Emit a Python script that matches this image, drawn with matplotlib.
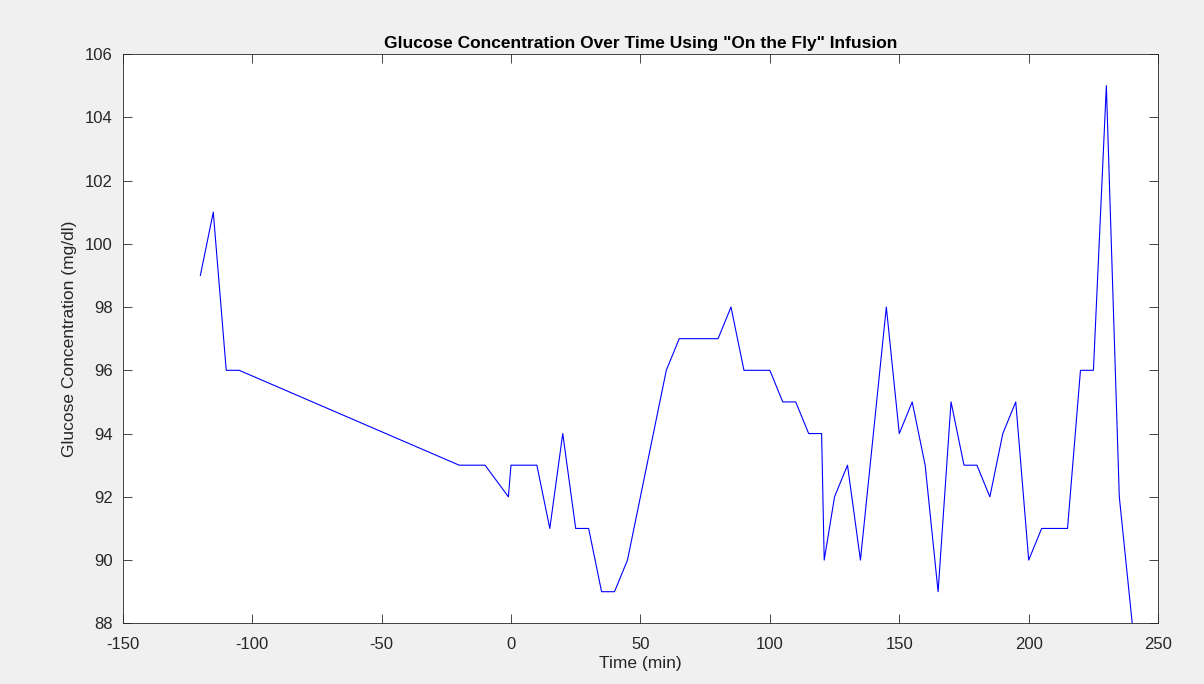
import matplotlib
matplotlib.use("Agg")
import matplotlib.pyplot as plt
import numpy as np

plt.rcParams['font.family'] = ['Liberation Sans', 'DejaVu Sans']
plt.rcParams['axes.unicode_minus'] = False

# glucose readings
time_min = [-120, -115, -110, -105, -20, -10, -1, 0, 10, 15, 20, 25, 30, 35, 40, 45,
            60, 65, 80, 85, 90, 100, 105, 110, 115, 120, 121, 125, 130, 135, 145,
            150, 155, 160, 165, 170, 175, 180, 185, 190, 195, 200, 205, 215, 220,
            225, 230, 235, 240]
glucose = [99, 101, 96, 96, 93, 93, 92, 93, 93, 91, 94, 91, 91, 89, 89, 90,
           96, 97, 97, 98, 96, 96, 95, 95, 94, 94, 90, 92, 93, 90, 98,
           94, 95, 93, 89, 95, 93, 93, 92, 94, 95, 90, 91, 91, 96,
           96, 105, 92, 88]

x_ticks = np.arange(-150, 251, 50)
y_ticks = np.arange(88, 107, 2)

fig = plt.figure(figsize=(12.04, 6.84), dpi=100, facecolor='#f0f0f0')
ax = fig.add_axes([0.1019, 0.0887, 0.860, 0.8323])
ax.set_facecolor('white')

ax.plot(time_min, glucose, color='#0000ff', linewidth=0.8)

ax.set_xlim(-150, 250)
ax.set_ylim(88, 106)
ax.set_xticks(x_ticks)
ax.set_yticks(y_ticks)
ax.tick_params(direction='in', top=True, right=True, labelsize=12,
               length=6.5, width=0.6, colors='#262626')
ax.tick_params(axis='x', pad=10)
ax.tick_params(axis='y', pad=7)
for s in ax.spines.values():
    s.set_color('#262626')
    s.set_linewidth(0.6)

ax.set_xlabel('Time (min)', fontsize=12.5, color='#262626', labelpad=3)
ax.set_ylabel('Glucose Concentration (mg/dl)', fontsize=12.5, color='#262626', labelpad=6)
ax.set_title('Glucose Concentration Over Time Using "On the Fly" Infusion',
             fontsize=12.5, fontweight='bold', pad=4)

fig.savefig('out.png', dpi=100, facecolor=fig.get_facecolor())
